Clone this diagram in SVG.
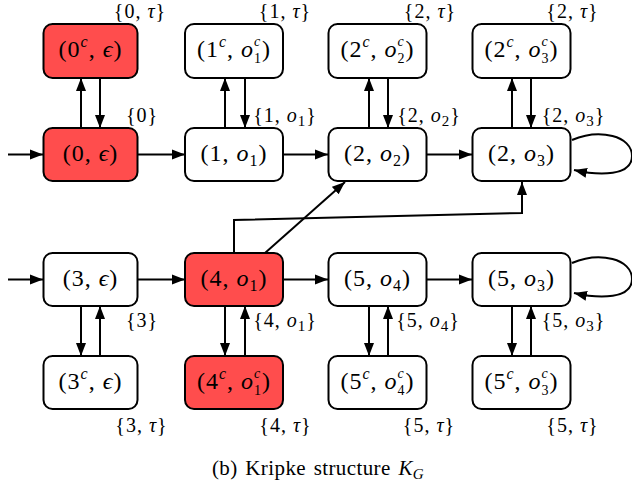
<svg xmlns="http://www.w3.org/2000/svg" width="632" height="489" viewBox="0 0 632 489">
<defs>
<marker id="ah" markerUnits="userSpaceOnUse" markerWidth="14" markerHeight="12" refX="13" refY="6" orient="auto">
<path d="M0,1 L13,6 L0,11 Z" fill="#000"/>
</marker>
<style>
.box{stroke:#000;stroke-width:2;fill:#fff}
.red{fill:#ff4d4d}
.nt{font-family:"Liberation Serif",serif;font-size:24px;letter-spacing:1px;text-anchor:middle;fill:#000}
.lb{font-family:"Liberation Serif",serif;font-size:20px;letter-spacing:1px;text-anchor:middle;fill:#000}
.cap{font-family:"Liberation Serif",serif;font-size:21px;letter-spacing:0.4px;word-spacing:2px;text-anchor:middle;fill:#000}
.i{font-style:italic}
.s{font-size:16px}
.q{font-size:14px}
.t{font-size:15px}
.e{stroke:#000;stroke-width:2;fill:none;marker-end:url(#ah)}
</style>
</defs>
<g id="connectors">
<line class="e" x1="8" y1="154.5" x2="43" y2="154.5"/>
<line class="e" x1="8" y1="279.5" x2="43" y2="279.5"/>
<line class="e" x1="137" y1="154.5" x2="185" y2="154.5"/>
<line class="e" x1="283" y1="154.5" x2="328" y2="154.5"/>
<line class="e" x1="427" y1="154.5" x2="472" y2="154.5"/>
<line class="e" x1="138" y1="279.5" x2="185" y2="279.5"/>
<line class="e" x1="283" y1="279.5" x2="328" y2="279.5"/>
<line class="e" x1="427" y1="279.5" x2="472" y2="279.5"/>
<line class="e" x1="81" y1="128" x2="81" y2="78"/>
<line class="e" x1="100" y1="78" x2="100" y2="128"/>
<line class="e" x1="225" y1="128" x2="225" y2="78"/>
<line class="e" x1="245" y1="78" x2="245" y2="128"/>
<line class="e" x1="369" y1="128" x2="369" y2="78"/>
<line class="e" x1="388" y1="78" x2="388" y2="128"/>
<line class="e" x1="512" y1="128" x2="512" y2="78"/>
<line class="e" x1="531" y1="78" x2="531" y2="128"/>
<line class="e" x1="81" y1="306" x2="81" y2="356"/>
<line class="e" x1="100" y1="356" x2="100" y2="306"/>
<line class="e" x1="225" y1="306" x2="225" y2="356"/>
<line class="e" x1="245" y1="356" x2="245" y2="306"/>
<line class="e" x1="369" y1="306" x2="369" y2="356"/>
<line class="e" x1="388" y1="356" x2="388" y2="306"/>
<line class="e" x1="512" y1="306" x2="512" y2="356"/>
<line class="e" x1="531" y1="356" x2="531" y2="306"/>
<line class="e" x1="265" y1="253" x2="345" y2="182"/>
<polyline class="e" points="234,253 234,220 522,213 522,182"/>
<path class="e" d="M572,140 C600,128 632,136 632,156 C632,176 600,176 574,170"/>
<path class="e" d="M572,263 C600,251 632,259 632,279 C632,299 600,299 574,293"/>
</g>
<g id="n0c"><rect class="box red" x="43.5" y="24" width="94" height="54" rx="9"/><text class="nt" x="90.5" y="57">(0<tspan class="i s" dy="-10">c</tspan><tspan dy="10">, </tspan><tspan class="i">ϵ</tspan>)</text></g>
<g id="n1c"><rect class="box" x="185" y="24" width="98" height="54" rx="9"/><text class="nt" x="234" y="57">(1<tspan class="i s" dy="-10">c</tspan><tspan dy="10">, </tspan><tspan class="i">o</tspan><tspan class="i q" dy="-11">c</tspan><tspan class="q" dx="-7.2" dy="17">1</tspan><tspan dy="-6">)</tspan></text></g>
<g id="n2c"><rect class="box" x="328.5" y="24" width="98" height="54" rx="9"/><text class="nt" x="377.5" y="57">(2<tspan class="i s" dy="-10">c</tspan><tspan dy="10">, </tspan><tspan class="i">o</tspan><tspan class="i q" dy="-11">c</tspan><tspan class="q" dx="-7.2" dy="17">2</tspan><tspan dy="-6">)</tspan></text></g>
<g id="n3c"><rect class="box" x="472.5" y="24" width="98" height="54" rx="9"/><text class="nt" x="521.5" y="57">(2<tspan class="i s" dy="-10">c</tspan><tspan dy="10">, </tspan><tspan class="i">o</tspan><tspan class="i q" dy="-11">c</tspan><tspan class="q" dx="-7.2" dy="17">3</tspan><tspan dy="-6">)</tspan></text></g>

<g id="n0"><rect class="box red" x="43.5" y="128" width="94" height="53" rx="9"/><text class="nt" x="90.5" y="161">(0, <tspan class="i">ϵ</tspan>)</text></g>
<g id="n1"><rect class="box" x="185" y="128" width="98" height="53" rx="9"/><text class="nt" x="234" y="161">(1, <tspan class="i">o</tspan><tspan class="s" dy="5">1</tspan><tspan dy="-5">)</tspan></text></g>
<g id="n2"><rect class="box" x="328.5" y="128" width="98" height="53" rx="9"/><text class="nt" x="377.5" y="161">(2, <tspan class="i">o</tspan><tspan class="s" dy="5">2</tspan><tspan dy="-5">)</tspan></text></g>
<g id="n3"><rect class="box" x="472.5" y="128" width="98" height="53" rx="9"/><text class="nt" x="521.5" y="161">(2, <tspan class="i">o</tspan><tspan class="s" dy="5">3</tspan><tspan dy="-5">)</tspan></text></g>

<g id="n4"><rect class="box" x="43.5" y="253" width="94" height="53" rx="9"/><text class="nt" x="90.5" y="286">(3, <tspan class="i">ϵ</tspan>)</text></g>
<g id="n5"><rect class="box red" x="185" y="253" width="98" height="53" rx="9"/><text class="nt" x="234" y="286">(4, <tspan class="i">o</tspan><tspan class="s" dy="5">1</tspan><tspan dy="-5">)</tspan></text></g>
<g id="n6"><rect class="box" x="328.5" y="253" width="98" height="53" rx="9"/><text class="nt" x="377.5" y="286">(5, <tspan class="i">o</tspan><tspan class="s" dy="5">4</tspan><tspan dy="-5">)</tspan></text></g>
<g id="n7"><rect class="box" x="472.5" y="253" width="98" height="53" rx="9"/><text class="nt" x="521.5" y="286">(5, <tspan class="i">o</tspan><tspan class="s" dy="5">3</tspan><tspan dy="-5">)</tspan></text></g>

<g id="n4c"><rect class="box" x="43.5" y="356" width="94" height="53" rx="9"/><text class="nt" x="90.5" y="389">(3<tspan class="i s" dy="-10">c</tspan><tspan dy="10">, </tspan><tspan class="i">ϵ</tspan>)</text></g>
<g id="n5c"><rect class="box red" x="185" y="356" width="98" height="53" rx="9"/><text class="nt" x="234" y="389">(4<tspan class="i s" dy="-10">c</tspan><tspan dy="10">, </tspan><tspan class="i">o</tspan><tspan class="i q" dy="-11">c</tspan><tspan class="q" dx="-7.2" dy="17">1</tspan><tspan dy="-6">)</tspan></text></g>
<g id="n6c"><rect class="box" x="328.5" y="356" width="98" height="53" rx="9"/><text class="nt" x="377.5" y="389">(5<tspan class="i s" dy="-10">c</tspan><tspan dy="10">, </tspan><tspan class="i">o</tspan><tspan class="i q" dy="-11">c</tspan><tspan class="q" dx="-7.2" dy="17">4</tspan><tspan dy="-6">)</tspan></text></g>
<g id="n7c"><rect class="box" x="472.5" y="356" width="98" height="53" rx="9"/><text class="nt" x="521.5" y="389">(5<tspan class="i s" dy="-10">c</tspan><tspan dy="10">, </tspan><tspan class="i">o</tspan><tspan class="i q" dy="-11">c</tspan><tspan class="q" dx="-7.2" dy="17">3</tspan><tspan dy="-6">)</tspan></text></g>

<g id="labels">
<text class="lb" x="140" y="18">{0, <tspan class="i">τ</tspan>}</text>
<text class="lb" x="285" y="18">{1, <tspan class="i">τ</tspan>}</text>
<text class="lb" x="430" y="18">{2, <tspan class="i">τ</tspan>}</text>
<text class="lb" x="572.5" y="18">{2, <tspan class="i">τ</tspan>}</text>
<text class="lb" x="142" y="122">{0}</text>
<text class="lb" x="285" y="122">{1, <tspan class="i">o</tspan><tspan class="t" dy="4">1</tspan><tspan dy="-4">}</tspan></text>
<text class="lb" x="429" y="122">{2, <tspan class="i">o</tspan><tspan class="t" dy="4">2</tspan><tspan dy="-4">}</tspan></text>
<text class="lb" x="573.5" y="122">{2, <tspan class="i">o</tspan><tspan class="t" dy="4">3</tspan><tspan dy="-4">}</tspan></text>
<text class="lb" x="142" y="327">{3}</text>
<text class="lb" x="285" y="327">{4, <tspan class="i">o</tspan><tspan class="t" dy="4">1</tspan><tspan dy="-4">}</tspan></text>
<text class="lb" x="428" y="327">{5, <tspan class="i">o</tspan><tspan class="t" dy="4">4</tspan><tspan dy="-4">}</tspan></text>
<text class="lb" x="573.5" y="327">{5, <tspan class="i">o</tspan><tspan class="t" dy="4">3</tspan><tspan dy="-4">}</tspan></text>
<text class="lb" x="141.5" y="432">{3, <tspan class="i">τ</tspan>}</text>
<text class="lb" x="285.5" y="432">{4, <tspan class="i">τ</tspan>}</text>
<text class="lb" x="429" y="432">{5, <tspan class="i">τ</tspan>}</text>
<text class="lb" x="572.5" y="432">{5, <tspan class="i">τ</tspan>}</text>
</g>
<text class="cap" x="318" y="475">(b) Kripke structure <tspan class="i">K</tspan><tspan class="i t" dy="4">G</tspan></text>
</svg>
